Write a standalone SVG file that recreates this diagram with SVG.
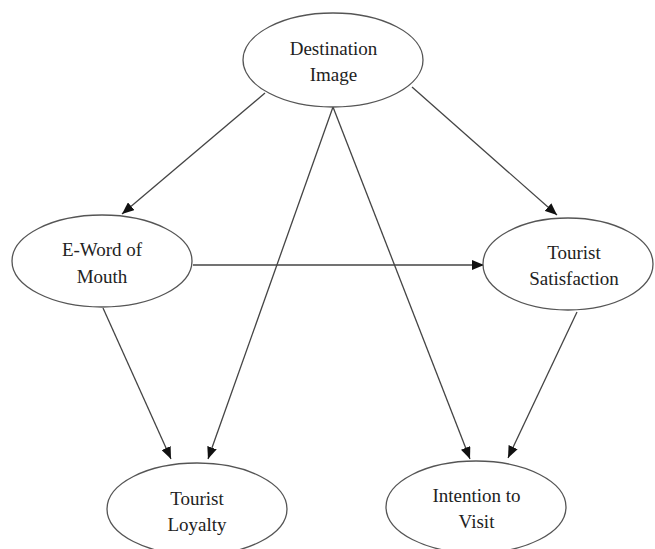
<svg xmlns="http://www.w3.org/2000/svg" width="655" height="549" viewBox="0 0 655 549">
<style>
.node ellipse{fill:#fff;stroke:#555;stroke-width:1.3}
.node text{font-size:19px;fill:#222;text-anchor:middle}
.edges line{stroke:#444;stroke-width:1.3;marker-end:url(#arr)}
</style>
<defs>
<marker id="arr" viewBox="0 0 12 10" refX="12" refY="5" markerWidth="12" markerHeight="10" markerUnits="userSpaceOnUse" orient="auto">
<path d="M0,0 L12,5 L0,10 Z" fill="#111"/>
</marker>
</defs>
<rect width="655" height="549" fill="#fff"/>
<g class="edges">
<line x1="265" y1="93" x2="122" y2="214"/>
<line x1="412" y1="87" x2="557" y2="215"/>
<line x1="333" y1="107" x2="208" y2="459"/>
<line x1="333" y1="107" x2="470" y2="459"/>
<line x1="193" y1="265" x2="484" y2="265"/>
<line x1="103" y1="308" x2="171" y2="459"/>
<line x1="577" y1="312" x2="508" y2="458"/>
</g>
<g font-family="'Liberation Serif', 'DejaVu Serif', serif">
<g id="destination-image" class="node">
<ellipse cx="333" cy="60" rx="90" ry="47"/>
<text x="333.5" y="55">Destination</text>
<text x="333.5" y="81">Image</text>
</g>
<g id="e-word-of-mouth" class="node">
<ellipse cx="102" cy="261" rx="90" ry="46"/>
<text x="102" y="256">E-Word of</text>
<text x="102" y="283">Mouth</text>
</g>
<g id="tourist-satisfaction" class="node">
<ellipse cx="568" cy="264" rx="85" ry="46"/>
<text x="574" y="259">Tourist</text>
<text x="574" y="285">Satisfaction</text>
</g>
<g id="tourist-loyalty" class="node">
<ellipse cx="197" cy="509" rx="90" ry="46"/>
<text x="197" y="505">Tourist</text>
<text x="197" y="531">Loyalty</text>
</g>
<g id="intention-to-visit" class="node">
<ellipse cx="476" cy="507" rx="90" ry="46"/>
<text x="476.5" y="502">Intention to</text>
<text x="476.5" y="528">Visit</text>
</g>
</g>
</svg>
